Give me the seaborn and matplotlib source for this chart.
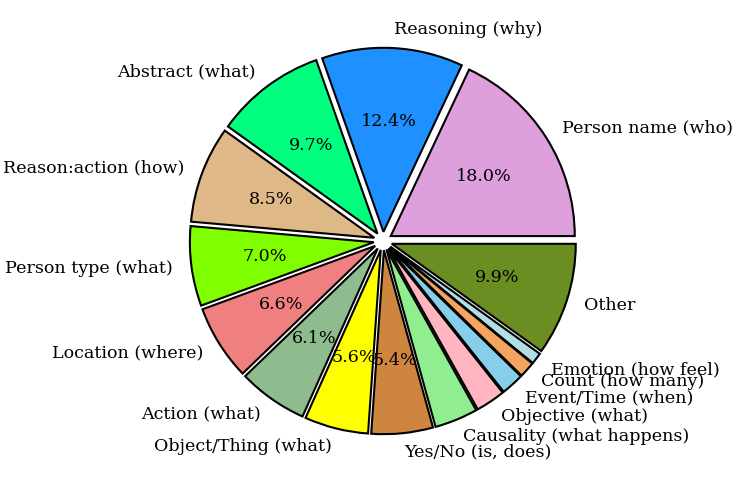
import matplotlib
matplotlib.use("Agg")
import matplotlib.pyplot as plt
import seaborn as sns

categories = ["Person name (who)", "Reasoning (why)", "Abstract (what)", "Reason:action (how)",
              "Person type (what)", "Location (where)", "Action (what)", "Object/Thing (what)",
              "Yes/No (is, does)", "Causality (what happens)", "Objective (what)",
              "Event/Time (when)", "Count (how many)", "Emotion (how feel)", "Other"]
values = [18.0, 12.4, 9.7, 8.5, 7.0, 6.6, 6.1, 5.6, 5.4, 3.8, 2.6, 2.0, 1.4, 1.0, 9.9]
colors = ["plum", "dodgerblue", "springgreen", "burlywood", "chartreuse", "lightcoral",
          "darkseagreen", "yellow", "peru", "lightgreen", "lightpink", "skyblue",
          "sandybrown", "powderblue", "olivedrab"]

sns.set_theme(style="white")
plt.rcParams['font.family'] = ['DejaVu Serif']

fig = plt.figure(figsize=(7.47, 4.98), dpi=100)
ax = fig.add_axes([0.2048, 0.0542, 0.6158, 0.9237])

ax.pie(values, labels=categories, colors=colors,
       explode=[0.05] * len(values),
       autopct=lambda p: f"{p:.1f}%" if p > 5 else "",
       startangle=0, counterclock=True,
       wedgeprops=dict(edgecolor="black", linewidth=1.5),
       textprops=dict(fontsize=12.6, color="black"))

fig.savefig("out.png", dpi=100)
